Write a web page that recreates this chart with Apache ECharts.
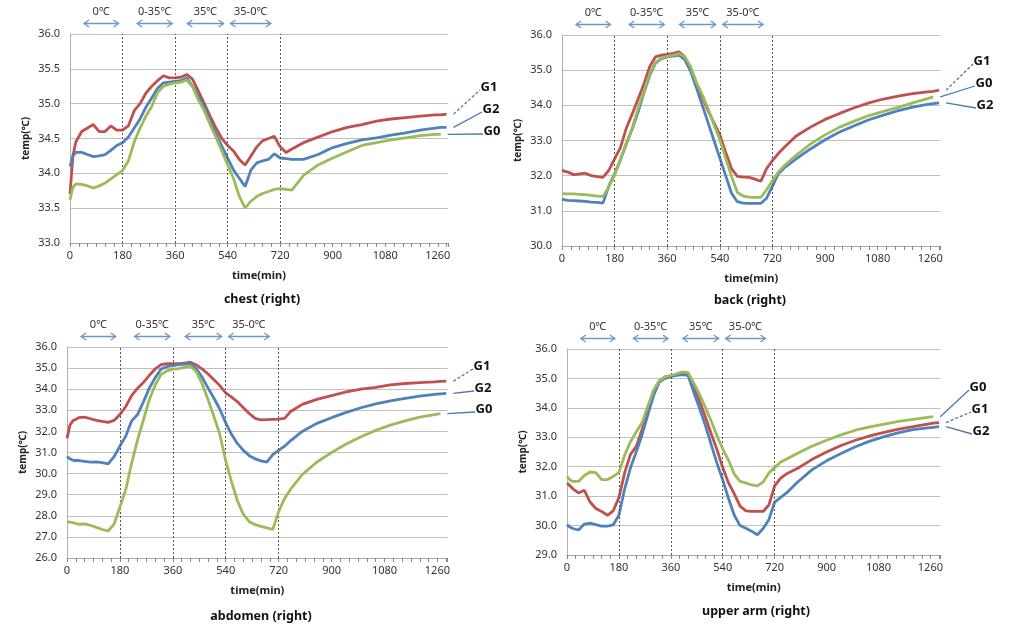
<!DOCTYPE html>
<html>
<head>
<meta charset="utf-8">
<script src="https://cdn.jsdelivr.net/npm/echarts@6/dist/echarts.min.js"></script>
<style>
html,body{margin:0;padding:0;background:#fff;}
#c{width:1017px;height:629px;}
</style>
</head>
<body>
<div id="c"></div>
<script>
// ---------------- data ----------------
const timeMin = [0,10,20,40,60,80,100,120,140,160,180,200,220,240,260,280,300,320,340,360,380,400,420,440,460,480,500,520,540,560,580,600,620,640,660,680,700,720,740,760,800,850,900,950,1000,1050,1100,1150,1200,1250,1270,1290];

const chestG1 = [33.7,34.25,34.45,34.6,34.65,34.7,34.6,34.6,34.68,34.62, 34.62,34.68,34.9,35.0,35.15,35.25,35.33,35.4,35.37,35.37, 35.38,35.42,35.35,35.18,35.0,34.82,34.65,34.5,34.4,34.32, 34.2,34.12,34.25,34.38,34.47,34.5,34.53,34.38,34.3,34.35, 34.44,34.52,34.6,34.66,34.7,34.75,34.78,34.8,34.82,34.84, 34.84,34.85];
const chestG2 = [34.1,34.25,34.3,34.3,34.27,34.24,34.25,34.27,34.33,34.4, 34.44,34.52,34.65,34.78,34.95,35.08,35.22,35.3,35.31,35.32, 35.33,35.37,35.25,35.1,34.95,34.75,34.57,34.39,34.22,34.05, 33.93,33.81,34.05,34.15,34.18,34.2,34.28,34.22,34.21,34.2, 34.2,34.27,34.37,34.43,34.48,34.51,34.55,34.58,34.62,34.65, 34.66,34.66];
const chestG0 = [33.62,33.8,33.85,33.84,33.82,33.79,33.82,33.86,33.92,33.98, 34.04,34.18,34.45,34.65,34.82,34.96,35.16,35.25,35.28,35.3, 35.31,35.34,35.24,35.05,34.9,34.7,34.52,34.32,34.12,33.93, 33.67,33.5,33.6,33.67,33.71,33.74,33.77,33.78,33.77,33.76, 33.97,34.12,34.22,34.31,34.4,34.44,34.48,34.51,34.54,34.56, 34.56,null];

const backG1 = [32.16,32.12,32.1,32.03,32.05,32.07,32.0,31.97,31.95,32.15, 32.48,32.8,33.35,33.75,34.17,34.6,35.1,35.38,35.43,35.45, 35.48,35.52,35.38,35.05,34.63,34.23,33.84,33.5,33.16,32.67, 32.2,31.98,31.96,31.95,31.9,31.84,32.2,32.43,32.63,32.8, 33.12,33.38,33.6,33.77,33.93,34.07,34.18,34.26,34.33,34.38, 34.4,34.43];
const backG0 = [31.5,31.48,31.48,31.48,31.47,31.46,31.44,31.42,31.41,31.68, 32.01,32.48,32.93,33.35,33.9,34.4,34.9,35.22,35.35,35.39, 35.42,35.47,35.38,35.1,34.65,34.3,33.9,33.45,33.02,32.5, 31.98,31.52,31.42,31.39,31.38,31.38,31.6,31.86,32.1,32.28, 32.57,32.9,33.16,33.38,33.55,33.71,33.83,33.94,34.07,34.19, 34.24,null];
const backG2 = [31.33,31.31,31.3,31.29,31.28,31.27,31.25,31.24,31.22,31.7, 32.05,32.45,32.9,33.32,33.8,34.35,34.85,35.2,35.33,35.38, 35.4,35.43,35.3,34.97,34.5,34.0,33.5,33.0,32.5,32.0, 31.5,31.26,31.22,31.21,31.21,31.21,31.36,31.7,32.05,32.22, 32.47,32.76,33.02,33.24,33.42,33.59,33.72,33.85,33.95,34.03, 34.05,34.07];

const abdomenG1 = [31.67,32.3,32.5,32.65,32.68,32.6,32.52,32.47,32.43,32.52, 32.8,33.18,33.7,34.05,34.32,34.66,34.96,35.16,35.21,35.21, 35.21,35.24,35.28,35.15,34.95,34.72,34.45,34.17,33.82,33.62, 33.4,33.12,32.85,32.62,32.55,32.56,32.57,32.58,32.62,32.93, 33.28,33.52,33.7,33.87,34.0,34.09,34.2,34.27,34.31,34.35, 34.37,34.38];
const abdomenG2 = [30.8,30.7,30.63,30.62,30.58,30.54,30.56,30.52,30.46,30.8, 31.3,31.78,32.5,32.8,33.4,34.05,34.55,34.95,35.07,35.12, 35.16,35.19,35.2,34.97,34.56,34.05,33.57,33.05,32.4,31.85, 31.42,31.1,30.85,30.7,30.6,30.54,30.9,31.1,31.3,31.55, 32.0,32.38,32.65,32.9,33.12,33.3,33.45,33.57,33.67,33.75, 33.78,33.8];
const abdomenG0 = [27.73,27.7,27.68,27.6,27.62,27.55,27.45,27.35,27.28,27.6, 28.42,29.25,30.5,31.6,32.55,33.5,34.2,34.7,34.87,34.95, 34.98,35.05,35.09,34.83,34.25,33.5,32.7,31.85,30.6,29.6, 28.7,28.07,27.72,27.58,27.5,27.43,27.35,28.2,28.82,29.25, 29.95,30.55,31.0,31.4,31.75,32.05,32.3,32.5,32.68,32.8, 32.84,null];

const upperArmG0 = [31.67,31.55,31.5,31.5,31.7,31.82,31.8,31.56,31.56,31.67, 31.8,32.4,32.85,33.18,33.49,34.05,34.6,34.93,35.05,35.1, 35.16,35.22,35.2,34.83,34.45,34.0,33.55,33.05,32.6,32.22, 31.75,31.5,31.45,31.38,31.35,31.48,31.79,31.97,32.15,32.25, 32.46,32.7,32.9,33.08,33.24,33.35,33.45,33.54,33.61,33.68, 33.7,null];
const upperArmG1 = [31.45,31.35,31.25,31.11,31.2,30.8,30.58,30.48,30.35,30.5, 30.95,31.8,32.42,32.68,33.26,33.85,34.45,34.9,35.05,35.09, 35.12,35.15,35.12,34.73,34.22,33.68,33.12,32.58,31.97,31.45, 31.08,30.66,30.5,30.48,30.48,30.48,30.7,31.35,31.6,31.75, 31.95,32.25,32.5,32.72,32.9,33.05,33.17,33.28,33.36,33.45, 33.48,33.5];
const upperArmG2 = [30.03,29.95,29.9,29.85,30.05,30.08,30.03,29.98,29.98,30.02, 30.35,31.25,31.96,32.5,33.08,33.75,34.42,34.88,35.0,35.06, 35.1,35.13,35.1,34.52,33.97,33.4,32.75,32.12,31.55,30.92, 30.35,30.0,29.91,29.81,29.69,29.9,30.2,30.8,30.95,31.1, 31.48,31.9,32.2,32.45,32.68,32.87,33.02,33.16,33.26,33.32, 33.34,33.36];

const panelTitles = ['chest (right)', 'back (right)', 'abdomen (right)', 'upper arm (right)'];
const yAxisMin = [33, 30, 26, 29];
const yAxisMax = [36, 36, 36, 36];
const yAxisStep = [0.5, 1, 1, 1];
const xAxisStep = 180;
const xAxisMax = 1295;
const phaseNames = ['0℃', '0-35℃', '35℃', '35-0℃'];
const phaseStart = [48, 230, 402, 550];
const phaseEnd = [166, 350, 526, 688];
const phaseBounds = [180, 360, 540, 720];
const groupNames = ['G1', 'G2', 'G0'];
const panelData = [
  {G1: chestG1, G2: chestG2, G0: chestG0},
  {G1: backG1, G2: backG2, G0: backG0},
  {G1: abdomenG1, G2: abdomenG2, G0: abdomenG0},
  {G1: upperArmG1, G2: upperArmG2, G0: upperArmG0}
];

// ---------------- layout & style ----------------
const FONT = "'Noto Sans', 'Noto Sans CJK KR', sans-serif";
const colors = {G1: '#c0504d', G2: '#4f81bd', G0: '#9bbb59'};
const drawOrder = ['G1', 'G2', 'G0'];
const layout = [
  {left: 70,  top: 34,  width: 378,   height: 209, title: [257, 288], labels: {G1: [489, 87],  G2: [491, 109], G0: [492, 131]}},
  {left: 562, top: 35,  width: 378.5, height: 211, title: [745, 289], labels: {G1: [982, 61],  G0: [984, 83],  G2: [985, 105]}},
  {left: 67,  top: 347, width: 380.7, height: 211, title: [256, 605], labels: {G1: [482, 366], G2: [483, 388], G0: [484, 409]}},
  {left: 567, top: 349, width: 373.5, height: 206, title: [751, 600], labels: {G0: [978, 387], G1: [980, 409], G2: [981, 431]}}
];

const chart = echarts.init(document.getElementById('c'), null, {renderer: 'canvas'});

const grids = [], xAxes = [], yAxes = [], series = [], titles = [];
layout.forEach((L, i) => {
  grids.push({left: L.left, top: L.top, width: L.width, height: L.height, containLabel: false});
  xAxes.push({
    type: 'value', gridIndex: i, min: 0, max: xAxisMax, interval: xAxisStep,
    name: 'time(min)', nameLocation: 'middle', nameGap: 27,
    nameTextStyle: {fontFamily: FONT, fontSize: 11, fontWeight: 'bold', color: '#222'},
    axisLine: {show: true, lineStyle: {color: '#a8a8a8', width: 1}},
    axisTick: {show: true, length: 4, lineStyle: {color: '#888'}},
    minorTick: {show: true, splitNumber: 6, length: 4, lineStyle: {color: '#888'}},
    splitLine: {show: false},
    axisLabel: {fontFamily: FONT, fontSize: 11, color: '#333', margin: 7, showMaxLabel: false,
      formatter: v => (v % xAxisStep === 0 ? String(v) : '')}
  });
  yAxes.push({
    type: 'value', gridIndex: i, min: yAxisMin[i], max: yAxisMax[i], interval: yAxisStep[i],
    name: 'temp(℃)', nameLocation: 'middle', nameGap: 39, nameRotate: 90,
    nameTextStyle: {fontFamily: FONT, fontSize: 10, fontWeight: 'bold', color: '#222'},
    axisLine: {show: true, lineStyle: {color: '#b0b0b0', width: 1}},
    axisTick: {show: false},
    splitLine: {show: true, lineStyle: {color: '#c0c0c0', width: 1}},
    axisLabel: {fontFamily: FONT, fontSize: 11, color: '#333', margin: 10, formatter: v => v.toFixed(1)}
  });
  drawOrder.forEach((g, k) => {
    const vals = panelData[i][g];
    const s = {
      type: 'line', name: g, xAxisIndex: i, yAxisIndex: i,
      data: timeMin.map((t, j) => [t, vals[j]]),
      showSymbol: false, symbol: 'none', smooth: false, connectNulls: false,
      lineStyle: {color: colors[g], width: 2.8},
      itemStyle: {color: colors[g]}, z: 3 + k, silent: true, animation: false
    };
    if (k === 0) {
      s.markLine = {
        silent: true, symbol: 'none', animation: false,
        label: {show: false},
        lineStyle: {color: '#555', type: [2, 2], width: 1},
        data: phaseBounds.map(b => ({xAxis: b}))
      };
    }
    series.push(s);
  });
  titles.push({
    text: panelTitles[i], left: L.title[0], top: L.title[1], textAlign: 'center',
    textStyle: {fontFamily: FONT, fontSize: 12.5, fontWeight: 'bold', color: '#111'}
  });
});

chart.setOption({
  animation: false,
  backgroundColor: '#fff',
  title: titles,
  grid: grids, xAxis: xAxes, yAxis: yAxes, series: series
});

// ---------------- annotations (positioned through the axes) ----------------
const graphics = [];
const arrowColor = '#6b98c9';
layout.forEach((L, i) => {
  const topY = chart.convertToPixel({gridIndex: i}, [0, yAxisMax[i]])[1];
  phaseNames.forEach((name, p) => {
    const x1 = chart.convertToPixel({gridIndex: i}, [phaseStart[p], yAxisMax[i]])[0];
    const x2 = chart.convertToPixel({gridIndex: i}, [phaseEnd[p], yAxisMax[i]])[0];
    const ya = topY - 10.5;
    graphics.push({type: 'polyline', silent: true, shape: {points: [[x1, ya], [x2, ya]]}, style: {stroke: arrowColor, lineWidth: 1.3}});
    graphics.push({type: 'polyline', silent: true, shape: {points: [[x1 + 5, ya - 3.5], [x1, ya], [x1 + 5, ya + 3.5]]}, style: {stroke: arrowColor, lineWidth: 1.3, fill: null}});
    graphics.push({type: 'polyline', silent: true, shape: {points: [[x2 - 5, ya - 3.5], [x2, ya], [x2 - 5, ya + 3.5]]}, style: {stroke: arrowColor, lineWidth: 1.3, fill: null}});
    graphics.push({type: 'text', silent: true, x: (x1 + x2) / 2, y: topY - 22,
      style: {text: name, fontFamily: FONT, fontSize: 11, fill: '#333', textAlign: 'center', textVerticalAlign: 'middle'}});
  });
  const rightX = L.left + L.width;
  Object.keys(L.labels).forEach(g => {
    const vals = panelData[i][g];
    let j = vals.length - 1;
    while (vals[j] == null) j--;
    const endPt = chart.convertToPixel({gridIndex: i}, [timeMin[j], vals[j]]);
    const lp = L.labels[g];
    const sx = Math.max(endPt[0] + 3, rightX - 6) + 4;
    graphics.push({type: 'polyline', silent: true,
      shape: {points: [[sx, endPt[1]], [lp[0] - 9, lp[1] + 3]]},
      style: {stroke: '#4a78b0', lineWidth: 1.3, lineDash: g === 'G1' ? [3, 2] : null}});
    graphics.push({type: 'text', silent: true, x: lp[0], y: lp[1],
      style: {text: g, fontFamily: FONT, fontSize: 13, fontWeight: 'bold', fill: '#111', textAlign: 'center', textVerticalAlign: 'middle'}});
  });
});
chart.setOption({graphic: graphics});
</script>
</body>
</html>
